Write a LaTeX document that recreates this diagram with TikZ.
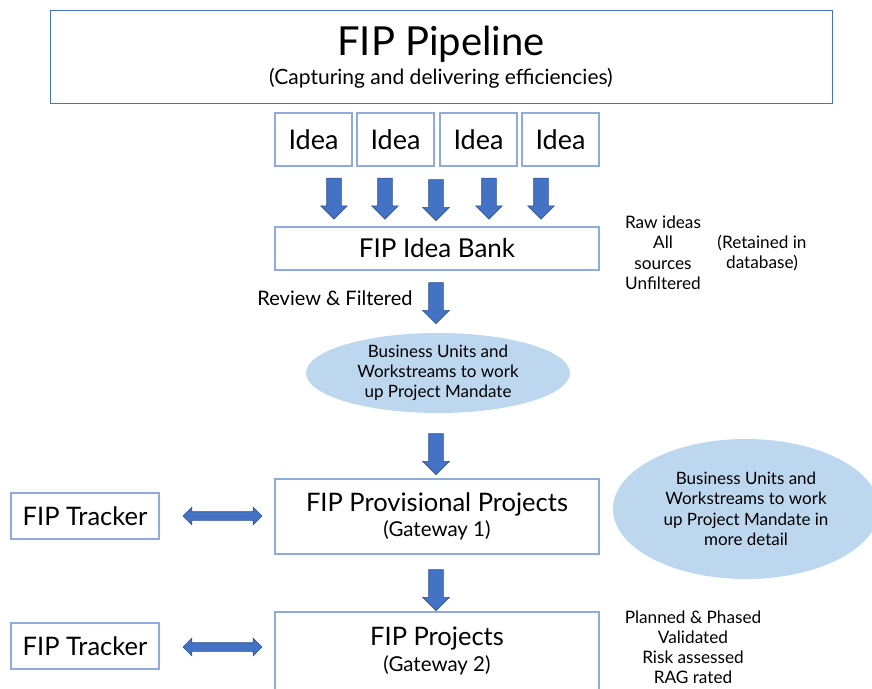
\documentclass[tikz,border=0pt]{standalone}
\usepackage{fontspec}
\setmainfont{Lato}
\usetikzlibrary{positioning}
\usetikzlibrary{shapes.geometric}
\usetikzlibrary{shapes.arrows}

\definecolor{boxline}{HTML}{8FAADC}
\definecolor{arrowfill}{HTML}{4472C4}
\definecolor{arrowline}{HTML}{2F528F}
\definecolor{blobfill}{HTML}{BDD7EE}

\begin{document}
\begin{tikzpicture}[
	x=1pt, y=-1pt,
	box/.style={draw=boxline, line width=1.6pt, rectangle, minimum width=#1},
	box/.default=77pt,
	downarrow/.style={single arrow, fill=arrowfill, draw=arrowline, line width=0.6pt,
		rotate=-90, minimum height=41pt, inner sep=7pt, single arrow head extend=6pt},
	twoway/.style={double arrow, fill=arrowfill, draw=arrowline, line width=0.6pt,
		minimum height=79pt, inner sep=4pt, double arrow head extend=4.5pt},
	blob/.style={ellipse, fill=blobfill, align=center, inner sep=0pt},
	note/.style={align=center, font=\fontsize{17.2}{20.5}\selectfont}
	]
	\useasboundingbox (0,0) rectangle (872,688);
	
	% Title
	\node[draw=arrowfill, line width=1pt, minimum width=782pt, minimum height=93pt] (pipeline) at (441,56.5) {};
	\node[font=\fontsize{40}{46}\selectfont] (title) at (441,44) {FIP Pipeline};
	\node[font=\fontsize{21}{25}\selectfont] (subtitle) at (441,78) {(Capturing and delivering efficiencies)};
	
	% Ideas
	\foreach \n/\x in {1/313.5, 2/395.5, 3/478.5, 4/560.5}
		\node[box, minimum height=53pt, font=\fontsize{27}{32}\selectfont] (idea\n) at (\x,139.5) {Idea};
	
	\foreach \x/\y in {334/195, 385/195, 436/196.5, 489/195, 541/195}
		\node[downarrow] at (\x,\y) {};
	
	% Idea bank
	\node[box=324pt, minimum height=43pt, font=\fontsize{26}{30}\selectfont] (bank) at (437,248.5) {FIP Idea Bank};
	\node[note] (raw) at (663,252.5) {Raw ideas\\All\\sources\\Unfiltered};
	\node[note] (retained) at (762,253) {(Retained in\\database)};
	\node[font=\fontsize{20}{24}\selectfont] (review) at (335,298) {Review \& Filtered};
	\node[downarrow] (a1) at (436,299.5) {};
	
	% First mandate
	\node[blob, minimum width=264pt, minimum height=80pt, font=\fontsize{17}{20}\selectfont] (mandate) at (438,373)
		{Business Units and\\Workstreams to work\\up Project Mandate};
	\node[downarrow] (a2) at (436,450.5) {};
	
	% Gateway 1
	\node[box=324pt, minimum height=75pt] (provisional) at (437,516.5) {};
	\node[font=\fontsize{25.5}{30}\selectfont] at (437,504) {FIP Provisional Projects};
	\node[font=\fontsize{20.5}{24}\selectfont] at (437,530) {(Gateway 1)};
	\node[blob, minimum width=266pt, minimum height=140pt, font=\fontsize{17}{20.5}\selectfont] (detail) at (746,509)
		{Business Units and\\Workstreams to work\\up Project Mandate in\\more detail};
	\node[box=148pt, minimum height=46pt, font=\fontsize{25.5}{30}\selectfont] (tracker1) at (85,516) {FIP Tracker};
	\node[twoway] (link1) at (222.5,516) {};
	\node[downarrow] (a3) at (436,586.5) {};
	
	% Gateway 2
	\node[box=324pt, minimum height=100pt] (projects) at (437,662) {};
	\node[font=\fontsize{25.5}{30}\selectfont] at (437,639) {FIP Projects};
	\node[font=\fontsize{20.5}{24}\selectfont] at (437,665) {(Gateway 2)};
	\node[note, font=\fontsize{17.2}{20}\selectfont] (checks) at (693,647) {Planned \& Phased\\Validated\\Risk assessed\\RAG rated};
	\node[box=148pt, minimum height=46pt, font=\fontsize{25.5}{30}\selectfont] (tracker2) at (85,646) {FIP Tracker};
	\node[twoway] (link2) at (222.5,647) {};
\end{tikzpicture}
\end{document}
